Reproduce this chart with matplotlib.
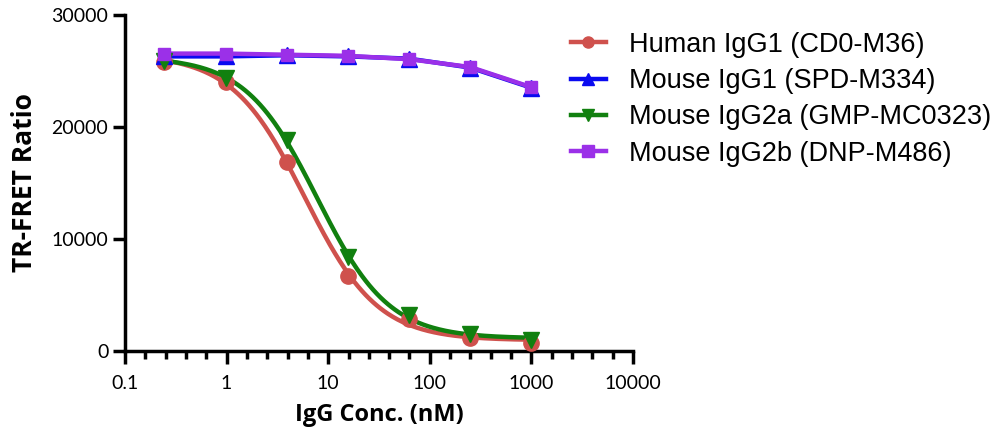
import numpy as np
import matplotlib
matplotlib.use("Agg")
import matplotlib.pyplot as plt
from matplotlib.ticker import FixedLocator, NullFormatter

# ---- data ----
conc_nM = [0.244, 0.977, 3.906, 15.625, 62.5, 250, 1000]
human_igg1 = [25800, 24000, 16900, 6700, 2900, 1150, 700]
mouse_igg1 = [26300, 26300, 26400, 26300, 26100, 25300, 23500]
mouse_igg2a = [25900, 24400, 18800, 8400, 3200, 1500, 1000]
mouse_igg2b = [26550, 26550, 26450, 26350, 26050, 25350, 23550]

labels = ["Human IgG1 (CD0-M36)", "Mouse IgG1 (SPD-M334)",
          "Mouse IgG2a (GMP-MC0323)", "Mouse IgG2b (DNP-M486)"]
x_ticks = [0.1, 1, 10, 100, 1000, 10000]
x_tick_labels = ["0.1", "1", "10", "100", "1000", "10000"]
y_ticks = [0, 10000, 20000, 30000]


def fit_4pl(x, y):
    """Four-parameter logistic fit: grid on (logEC50, hill), linear LS for top/bottom."""
    x = np.asarray(x, float); y = np.asarray(y, float)
    lx = np.log10(x)
    best = None
    for le in np.linspace(-1, 3, 401):
        for h in np.linspace(0.3, 3.0, 271):
            f = 1.0 / (1.0 + 10 ** ((lx - le) * h))
            A = np.column_stack([1 - f, f])
            coef, *_ = np.linalg.lstsq(A, y, rcond=None)
            r = np.sum((A @ coef - y) ** 2)
            if best is None or r < best[0]:
                best = (r, le, h, coef)
    _, le, h, (bottom, top) = best
    return lambda xx: bottom + (top - bottom) / (1.0 + 10 ** ((np.log10(xx) - le) * h))


fig = plt.figure(figsize=(9.96, 4.37), dpi=100)
ax = fig.add_axes([0.1255, 0.1968, 0.51, 0.769])

series = [
    (human_igg1, "#CF514D", "o", 11, True),
    (mouse_igg1, "#0A0AF0", "^", 11, False),
    (mouse_igg2a, "#11800F", "v", 11, True),
    (mouse_igg2b, "#9B30E8", "s", 9, False),
]

xs = np.logspace(np.log10(conc_nM[0]), np.log10(conc_nM[-1]), 300)
handles = []
for (vals, col, mk, ms, fit), lab in zip(series, labels):
    if fit:
        f = fit_4pl(conc_nM, vals)
        ax.plot(xs, f(xs), color=col, lw=3.2, zorder=3)
    else:
        ax.plot(conc_nM, vals, color=col, lw=3.2, zorder=3)
    ax.plot(conc_nM, vals, ls="none", marker=mk, ms=ms, color=col,
            mec=col, zorder=4)
    h, = ax.plot([], [], color=col, lw=3.2, marker=mk, ms=8, label=lab)
    handles.append(h)

ax.set_xscale("log")
ax.set_xlim(0.1, 10000)
ax.set_ylim(0, 30000)

ax.xaxis.set_major_locator(FixedLocator(x_ticks))
minor = []
for d in range(-1, 4):
    for k in range(1, 5):
        minor.append(10 ** (d + k * 0.2))
ax.xaxis.set_minor_locator(FixedLocator(minor))
ax.xaxis.set_minor_formatter(NullFormatter())
ax.set_xticklabels(x_tick_labels)
ax.set_yticks(y_ticks)
ax.set_yticklabels([str(v) for v in y_ticks])

for s in ["top", "right"]:
    ax.spines[s].set_visible(False)
for s in ["left", "bottom"]:
    ax.spines[s].set_linewidth(2.5)

ax.tick_params(axis="both", which="major", direction="out", length=9, width=2.5)
ax.tick_params(axis="x", which="minor", direction="out", length=6, width=2.5)
ax.tick_params(axis="x", labelsize=14, pad=8)
ax.tick_params(axis="y", labelsize=14, pad=3)
for t in ax.get_xticklabels() + ax.get_yticklabels():
    t.set_family("Lato")

ax.set_xlabel("IgG Conc. (nM)", fontsize=17, fontweight="bold", family="Open Sans", labelpad=8)
ax.set_ylabel("TR-FRET Ratio", fontsize=19, fontweight="bold", family="Open Sans", labelpad=10)

fig.legend(handles=handles, loc="upper left", bbox_to_anchor=(0.562, 0.952),
           frameon=False, prop={"family": "Liberation Sans", "size": 19.5},
           handlelength=1.3, handletextpad=0.85, labelspacing=0.38, borderaxespad=0)

fig.savefig("out.png", dpi=100)
